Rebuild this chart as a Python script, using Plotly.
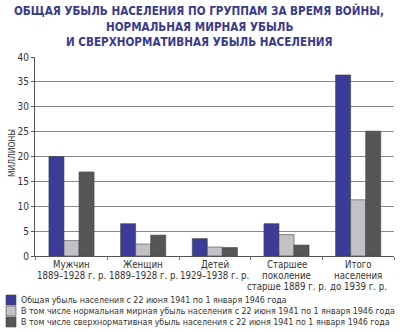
import plotly.graph_objects as go

categories = ["Мужчин", "Женщин", "Детей", "Старшее", "Итого"]
tick_lines = [
    ["Мужчин", "1889–1928 г. р."],
    ["Женщин", "1889–1928 г. р."],
    ["Детей", "1929–1938 г. р."],
    ["Старшее", "поколение", "старше 1889 г. р."],
    ["Итого", "населения", "до 1939 г. р."],
]
total_loss = [20.0, 6.5, 3.5, 6.5, 36.4]
normal_loss = [3.1, 2.4, 1.8, 4.3, 11.3]
excess_loss = [16.9, 4.2, 1.7, 2.2, 25.1]
series_names = [
    "Общая убыль населения с 22 июня 1941 по 1 января 1946 года",
    "В том числе нормальная мирная убыль населения с 22 июня 1941 по 1 января 1946 года",
    "В том числе сверхнормативная убыль населения с 22 июня 1941 по 1 января 1946 года",
]
colors = ["#3b3b98", "#c2c2c6", "#565656"]
title_lines = [
    "ОБЩАЯ УБЫЛЬ НАСЕЛЕНИЯ ПО ГРУППАМ ЗА ВРЕМЯ ВОЙНЫ,",
    "НОРМАЛЬНАЯ МИРНАЯ УБЫЛЬ",
    "И СВЕРХНОРМАТИВНАЯ УБЫЛЬ НАСЕЛЕНИЯ",
]
y_ticks = [0, 5, 10, 15, 20, 25, 30, 35, 40]

FONT = "DejaVu Sans Condensed, Liberation Sans Narrow, sans-serif"

fig = go.Figure()
for name, vals, col in zip(series_names, [total_loss, normal_loss, excess_loss], colors):
    fig.add_trace(go.Bar(
        x=categories, y=vals, name=name,
        marker=dict(color=col, line=dict(color="#444444", width=0.6)),
        showlegend=False,
    ))

W, H = 400, 332
L, R, T, B = 35, 6, 57, 76
pw, ph = W - L - R, H - T - B

def px2paper(x, y):
    return (x - L) / pw, (H - B - y) / ph

annotations = []
# title
for i, line in enumerate(title_lines):
    xp, yp = px2paper(199, 10.5 + 16 * i)
    annotations.append(dict(
        text=line, x=xp, y=yp, xref="paper", yref="paper",
        xanchor="center", yanchor="middle", showarrow=False,
        font=dict(family=FONT, size=11.6, color="#3a3a8c", weight="bold"),
    ))
# category labels
for cat, lines in zip(categories, tick_lines):
    for j, line in enumerate(lines):
        annotations.append(dict(
            text=line, x=cat, y=0, xref="x", yref="y",
            xanchor="center", yanchor="middle", yshift=-(8 + 11 * j),
            showarrow=False,
            font=dict(family=FONT, size=9.6, color="#333333"),
        ))
# y title
xp, yp = px2paper(12, 153)
annotations.append(dict(
    text="МИЛЛИОНЫ", x=xp, y=yp, xref="paper", yref="paper",
    xanchor="center", yanchor="middle", textangle=-90, showarrow=False,
    font=dict(family=FONT, size=8.5, color="#333333"),
))
# legend
shapes = []
for i, (name, col) in enumerate(zip(series_names, colors)):
    cy = 300 + 11 * i
    x0, y0 = px2paper(6, cy - 5)
    x1, y1 = px2paper(16, cy + 5)
    shapes.append(dict(type="rect", xref="paper", yref="paper",
                       x0=x0, x1=x1, y0=y0, y1=y1,
                       fillcolor=col, line=dict(color="#444444", width=0.6)))
    xp, yp = px2paper(19, cy)
    annotations.append(dict(
        text=name, x=xp, y=yp, xref="paper", yref="paper",
        xanchor="left", yanchor="middle", showarrow=False,
        font=dict(family=FONT, size=8.8, color="#333333"),
    ))

fig.update_layout(
    width=W, height=H,
    margin=dict(l=L, r=R, t=T, b=B),
    paper_bgcolor="white", plot_bgcolor="white",
    barmode="group", bargap=0.37, bargroupgap=0,
    font=dict(family=FONT, size=10, color="#333333"),
    annotations=annotations, shapes=shapes,
    showlegend=False,
)
fig.update_xaxes(
    showticklabels=False, showline=True, linecolor="#555555", linewidth=1,
    ticks="outside", tickson="boundaries", ticklen=3, tickcolor="#777777",
)
fig.update_yaxes(
    range=[0, 40], tickvals=y_ticks, showgrid=True, gridcolor="#8a8a8a", gridwidth=1,
    showline=True, linecolor="#555555", linewidth=1,
    ticks="outside", ticklen=3, tickcolor="#555555",
    tickfont=dict(family=FONT, size=10, color="#333333"), zeroline=False,
)
fig.write_html("out.html")
